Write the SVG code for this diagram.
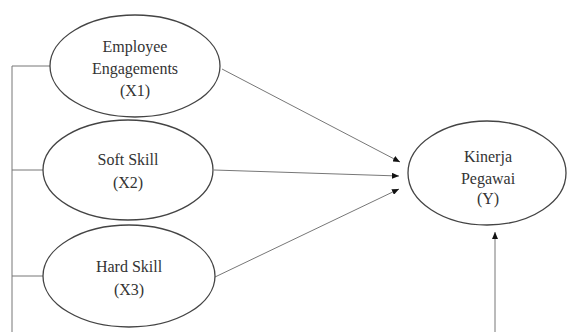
<svg xmlns="http://www.w3.org/2000/svg" width="568" height="332" viewBox="0 0 568 332">
<defs>
<marker id="ah" markerWidth="7" markerHeight="6" refX="7" refY="3" orient="auto" markerUnits="userSpaceOnUse">
<path d="M0,0 L7,3 L0,6 Z" fill="#111"/>
</marker>
<style>
.n ellipse{fill:#fff;stroke:#444;stroke-width:1.3}
.n text{font-family:'Liberation Serif','DejaVu Serif',serif;font-size:16px;fill:#333;text-anchor:middle}
.c line,.c polyline{stroke:#777;stroke-width:1;fill:none}
</style>
</defs>
<rect width="568" height="332" fill="#fff"/>
<g class="c" id="connectors">
<polyline points="50,66 12,66 12,332"/>
<line x1="43" y1="170" x2="12" y2="170"/>
<line x1="43" y1="276" x2="12" y2="276"/>
<line x1="222" y1="69" x2="400" y2="162" marker-end="url(#ah)"/>
<line x1="214" y1="170" x2="399" y2="176" marker-end="url(#ah)"/>
<line x1="215" y1="277" x2="399" y2="189" marker-end="url(#ah)"/>
<line x1="495" y1="332" x2="495" y2="232" marker-end="url(#ah)"/>
</g>
<g class="n" id="x1">
<ellipse cx="135" cy="66" rx="85" ry="51"/>
<text x="135" y="52" font-family="Liberation Serif, DejaVu Serif, serif">Employee</text>
<text x="135" y="74" font-family="Liberation Serif, DejaVu Serif, serif">Engagements</text>
<text x="135" y="96" font-family="Liberation Serif, DejaVu Serif, serif">(X1)</text>
</g>
<g class="n" id="x2">
<ellipse cx="128" cy="170" rx="85" ry="50"/>
<text x="128" y="165" font-family="Liberation Serif, DejaVu Serif, serif">Soft Skill</text>
<text x="128" y="188" font-family="Liberation Serif, DejaVu Serif, serif">(X2)</text>
</g>
<g class="n" id="x3">
<ellipse cx="129" cy="276" rx="86" ry="51"/>
<text x="129" y="272" font-family="Liberation Serif, DejaVu Serif, serif">Hard Skill</text>
<text x="129" y="295" font-family="Liberation Serif, DejaVu Serif, serif">(X3)</text>
</g>
<g class="n" id="y">
<ellipse cx="487" cy="173" rx="79" ry="52"/>
<text x="488" y="162" font-family="Liberation Serif, DejaVu Serif, serif">Kinerja</text>
<text x="488" y="184" font-family="Liberation Serif, DejaVu Serif, serif">Pegawai</text>
<text x="488" y="204" font-family="Liberation Serif, DejaVu Serif, serif">(Y)</text>
</g>
</svg>
